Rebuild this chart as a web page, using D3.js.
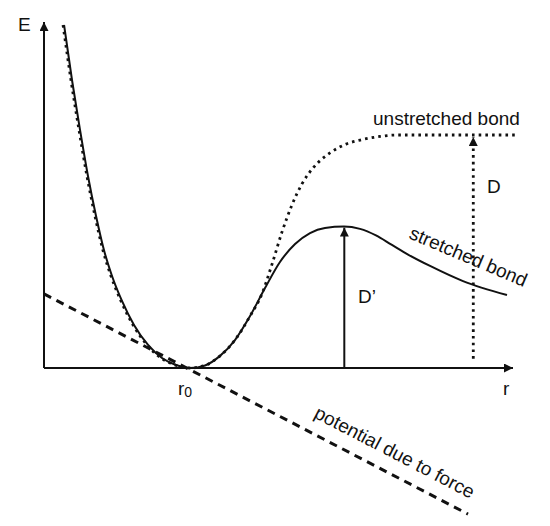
<!DOCTYPE html>
<html>
<head>
<meta charset="utf-8">
<script src="https://cdn.jsdelivr.net/npm/d3@7"></script>
<style>
  html, body { margin: 0; padding: 0; background: #fff; }
  svg { display: block; }
  text { font-family: "Liberation Sans", Arial, Helvetica, sans-serif; fill: #111; }
</style>
</head>
<body>
<svg id="chart" width="550" height="526"></svg>
<script>
// ---- data (r roughly in units of r0, E in units of D) ----
const unstretchedR = [0.130, 0.184, 0.239, 0.293, 0.348, 0.402, 0.457, 0.525, 0.607, 0.703, 0.798, 0.894, 0.996,
                      1.099, 1.201, 1.303, 1.406, 1.487, 1.556, 1.624, 1.692, 1.760, 1.842, 1.951, 2.061, 2.177, 2.293, 2.409, 2.634, 2.907, 3.227];
const unstretchedE = [1.472, 1.236, 1.021, 0.824, 0.652, 0.506, 0.395, 0.288, 0.185, 0.099, 0.043, 0.013, 0.000,
                      0.011, 0.052, 0.120, 0.223, 0.318, 0.446, 0.584, 0.700, 0.790, 0.863, 0.923, 0.961, 0.981, 0.994, 1.000, 1.000, 1.000, 1.000];

const stretchedR = [0.137, 0.191, 0.246, 0.300, 0.355, 0.409, 0.464, 0.532, 0.614, 0.710, 0.805, 0.901, 0.996,
                    1.099, 1.201, 1.303, 1.406, 1.508, 1.610, 1.713, 1.815, 1.917, 2.047, 2.156, 2.265, 2.374, 2.484, 2.634, 2.859, 3.159];
const stretchedE = [1.472, 1.236, 1.021, 0.824, 0.652, 0.506, 0.395, 0.288, 0.185, 0.099, 0.043, 0.013, 0.000,
                    0.011, 0.052, 0.120, 0.223, 0.343, 0.455, 0.532, 0.579, 0.601, 0.607, 0.597, 0.569, 0.528, 0.487, 0.438, 0.373, 0.313];

const forceR = [0.0, 2.893];
const forceE = [0.318, -0.627];

const r0 = 0.996;
const dBarrierR = 2.929;   // position of D arrow
const dPrimeR = 2.049;     // position of D' arrow (maximum of stretched curve)
const dValue = 1.0;
const dPrimeValue = 0.607;

const labels = ["E", "r", "unstretched bond", "stretched bond", "potential due to force", "D", "D\u2019"];

// ---- scales ----
const svg = d3.select("#chart");
const x = d3.scaleLinear().domain([0, 3.2]).range([44, 513]);
const y = d3.scaleLinear().domain([0, 1.485]).range([368, 22]);

const toPts = (rs, es) => rs.map((r, i) => [r, es[i]]);
const line = d3.line().x(d => x(d[0])).y(d => y(d[1])).curve(d3.curveMonotoneX);

// markers
const defs = svg.append("defs");
defs.append("marker")
  .attr("id", "arrow")
  .attr("viewBox", "0 0 10 10")
  .attr("refX", 10).attr("refY", 5)
  .attr("markerUnits", "userSpaceOnUse")
  .attr("markerWidth", 9).attr("markerHeight", 9)
  .attr("orient", "auto")
  .append("path").attr("d", "M0,0 L10,5 L0,10 Z").attr("fill", "#111");

// ---- axes ----
svg.append("line")
  .attr("x1", x(0)).attr("y1", y(0)).attr("x2", x(0)).attr("y2", y(1.485))
  .attr("stroke", "#111").attr("stroke-width", 2).attr("marker-end", "url(#arrow)");
svg.append("line")
  .attr("x1", x(0)).attr("y1", y(0)).attr("x2", x(3.2)).attr("y2", y(0))
  .attr("stroke", "#111").attr("stroke-width", 2).attr("marker-end", "url(#arrow)");

// ---- force line (dashed) ----
svg.append("path")
  .datum(toPts(forceR, forceE))
  .attr("d", d3.line().x(d => x(d[0])).y(d => y(d[1])))
  .attr("fill", "none").attr("stroke", "#111").attr("stroke-width", 3)
  .attr("stroke-dasharray", "8 6");

// ---- unstretched (dotted) ----
svg.append("path")
  .datum(toPts(unstretchedR, unstretchedE))
  .attr("d", line)
  .attr("fill", "none").attr("stroke", "#111").attr("stroke-width", 2.8)
  .attr("stroke-dasharray", "2.6 4.1");

// ---- stretched (solid) ----
svg.append("path")
  .datum(toPts(stretchedR, stretchedE))
  .attr("d", line)
  .attr("fill", "none").attr("stroke", "#111").attr("stroke-width", 2);

// ---- D arrow (dotted) ----
svg.append("line")
  .attr("x1", x(dBarrierR)).attr("y1", y(0.04))
  .attr("x2", x(dBarrierR)).attr("y2", y(dValue) + 2)
  .attr("stroke", "#111").attr("stroke-width", 2.8).attr("stroke-dasharray", "2.6 4.1")
  .attr("marker-end", "url(#arrow)");

// ---- D' arrow (solid) ----
svg.append("line")
  .attr("x1", x(dPrimeR)).attr("y1", y(0))
  .attr("x2", x(dPrimeR)).attr("y2", y(dPrimeValue) + 1)
  .attr("stroke", "#111").attr("stroke-width", 2)
  .attr("marker-end", "url(#arrow)");

// ---- labels ----
const fs = 19;
svg.append("text").attr("x", 18).attr("y", 31).attr("font-size", fs).text(labels[0]);
svg.append("text").attr("x", 503).attr("y", 395).attr("font-size", fs).text(labels[1]);
const r0t = svg.append("text").attr("x", x(r0) - 12).attr("y", 395).attr("font-size", fs);
r0t.append("tspan").text("r");
r0t.append("tspan").attr("font-size", 14).attr("dy", 2).text("0");

svg.append("text").attr("x", 373).attr("y", 125).attr("font-size", fs).text(labels[2]);
svg.append("text").attr("transform", "translate(408,238) rotate(23)").attr("font-size", fs).text(labels[3]);
svg.append("text").attr("transform", "translate(313,417) rotate(27.5)").attr("font-size", fs).text(labels[4]);
svg.append("text").attr("x", 487).attr("y", 193).attr("font-size", fs).text(labels[5]);
svg.append("text").attr("x", 358).attr("y", 303).attr("font-size", fs).text(labels[6]);
</script>
</body>
</html>
